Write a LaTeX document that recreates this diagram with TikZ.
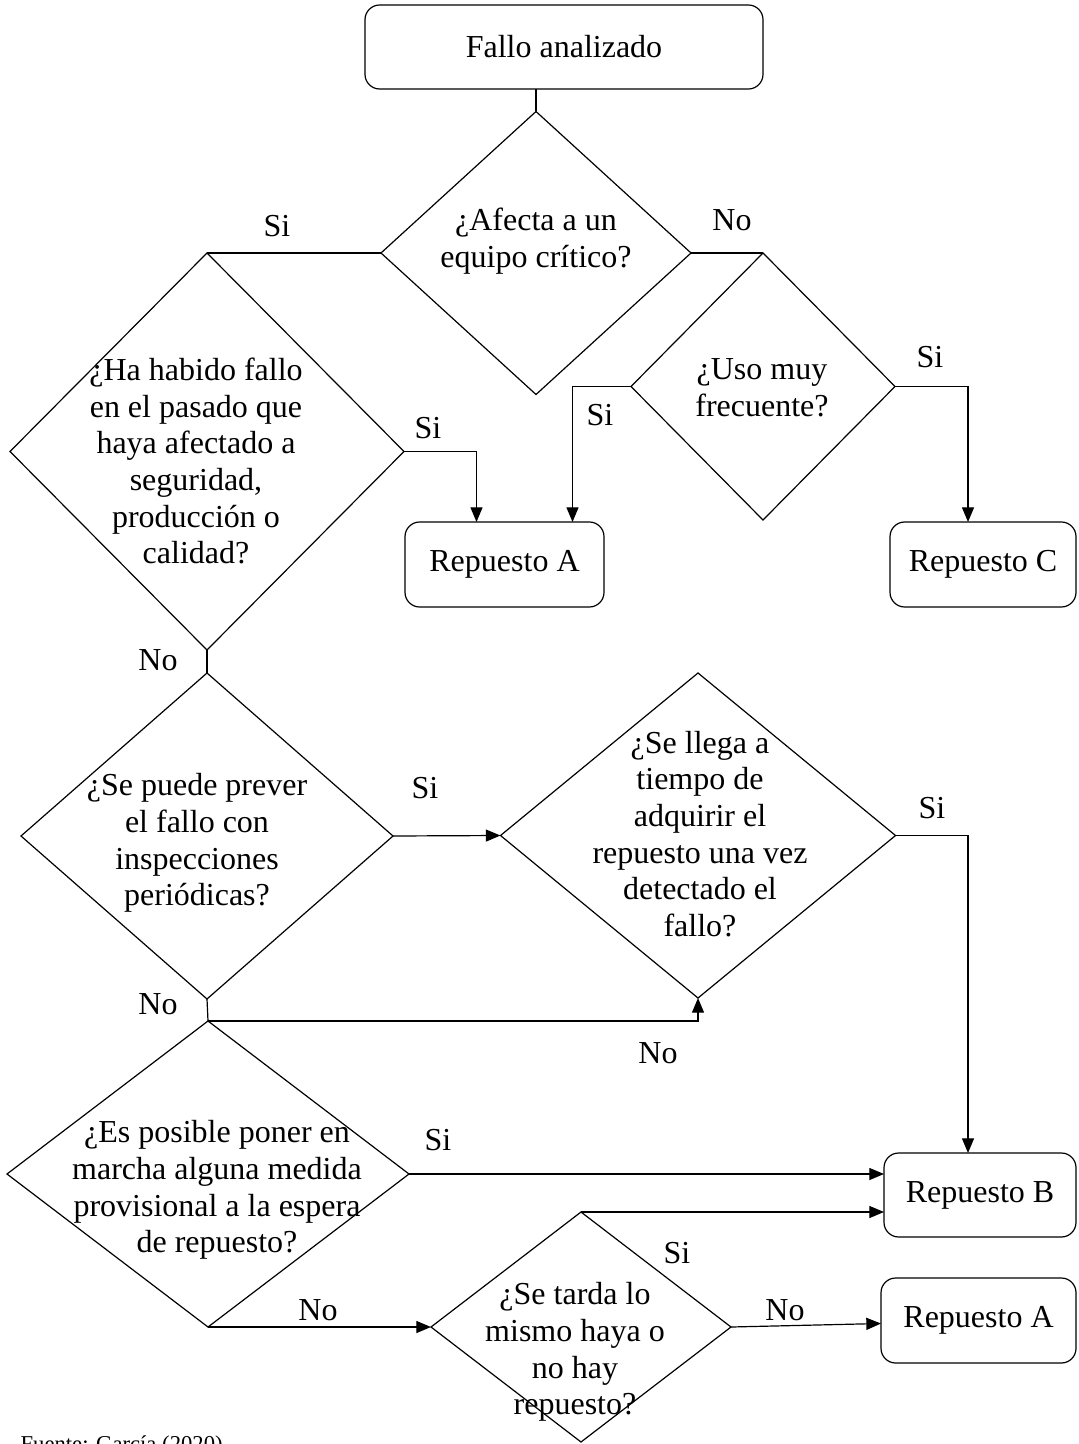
\documentclass[tikz,border=0pt]{standalone}
\usepackage{fontspec}
\setmainfont{Liberation Serif}
\usetikzlibrary{shapes.geometric,arrows.meta,calc}
\begin{document}
\begin{tikzpicture}[x=0.75pt,y=-0.75pt,
  line width=0.9pt,
  every node/.style={font=\fontsize{24}{27.5}\selectfont},
  dia/.style 2 args={draw, diamond, inner sep=0pt, outer sep=0pt,
    minimum width=#1*0.75pt, minimum height=#2*0.75pt},
  box/.style 2 args={draw, rectangle, rounded corners=11pt, inner sep=0pt,
    outer sep=0pt, minimum width=#1*0.75pt, minimum height=#2*0.75pt},
  txt/.style={align=center, inner sep=0pt},
  lbl/.style={inner sep=0pt},
  arr/.style={-{Triangle[length=11pt,width=9pt]}},
]
\useasboundingbox (0,0) rectangle (1078,1444);
\clip (0,0) rectangle (1078,1444);

% start box
\node[box={398}{84}] (top) at (564,47) {Fallo analizado};

% decisions (shape and text placed separately)
\node[dia={310}{283}] (d1) at (536,253) {};
\node[txt] (t1) at (536,241) {¿Afecta a un\\equipo crítico?};

\node[dia={394}{397}] (d2) at (207,451.5) {};
\node[txt] (t2) at (196,461) {¿Ha habido fallo\\en el pasado que\\haya afectado a\\seguridad,\\producción o\\calidad?};

\node[dia={264}{267}] (du) at (763,386.5) {};
\node[txt] (tu) at (762,388) {¿Uso muy\\frecuente?};

\node[dia={372}{326}] (d3) at (207,836) {};
\node[txt] (t3) at (197,843) {¿Se puede prever\\el fallo con\\inspecciones\\periódicas?};

\node[dia={395}{325}] (d4) at (698,835.5) {};
\node[txt] (t4) at (700,834) {¿Se llega a\\tiempo de\\adquirir el\\repuesto una vez\\detectado el\\fallo?};

\node[dia={402}{306}] (d5) at (208,1174) {};
\node[txt] (t5) at (217,1190) {¿Es posible poner en\\marcha alguna medida\\provisional a la espera\\de repuesto?};

\node[dia={300}{230}] (d6) at (581,1327) {};
\node[txt] (t6) at (575,1352) {¿Se tarda lo\\mismo haya o\\no hay\\repuesto?};

% outcomes
\node[box={199}{85}] (rA) at (504.5,564.5) {Repuesto A};
\node[box={186}{85}] (rC) at (983,564.5) {Repuesto C};
\node[box={192}{84}] (rB) at (980,1195) {Repuesto B};
\node[box={195}{85}] (rA2) at (978.5,1320.5) {Repuesto A};

% connectors
\draw (d1.north) -- (d1.north |- top.south);
\draw (d1.west) -- (d2.north);
\draw (d1.east) -- (du.north);
\draw[arr] (d2.east) -| ($(rA.north)+(-28,0)$);
\draw[arr] (du.west) -| ($(rA.north)+(68,0)$);
\draw[arr] (du.east) -| ($(rC.north)+(-15,0)$);
\draw (d2.south) -- (d3.north);
\draw[arr] (d3.east) -- (d4.west);
\draw[arr] (d4.east) -| ($(rB.north)+(-12,0)$);
\draw (d3.south) -- (d5.north);
\draw[arr] (d5.north) -| (d4.south);
\draw[arr] (d5.east) -- (d5.east -| rB.west);
\draw[arr] (d5.south) -- (d6.west);
\draw[arr] (d6.north) -- (d6.north -| rB.west);
\draw[arr] (d6.east) -- ($(rA2.west)+(0,3)$);

% branch labels
\node[lbl] (l1) at (277,226) {Si};
\node[lbl] (l2) at (732,220) {No};
\node[lbl] (l3) at (428,428) {Si};
\node[lbl] (l4) at (600,415) {Si};
\node[lbl] (l5) at (930,357) {Si};
\node[lbl] (l6) at (158,660) {No};
\node[lbl] (l7) at (425,788) {Si};
\node[lbl] (l8) at (932,808) {Si};
\node[lbl] (l9) at (158,1004) {No};
\node[lbl] (l10) at (658,1053) {No};
\node[lbl] (l11) at (438,1140) {Si};
\node[lbl] (l12) at (318,1310) {No};
\node[lbl] (l13) at (677,1253) {Si};
\node[lbl] (l14) at (785,1310) {No};

% source line, running off the lower edge
\node[inner sep=0pt, anchor=base west, font=\fontsize{17}{20}\selectfont] (src) at (20,1451) {Fuente: García (2020)};
\end{tikzpicture}
\end{document}
